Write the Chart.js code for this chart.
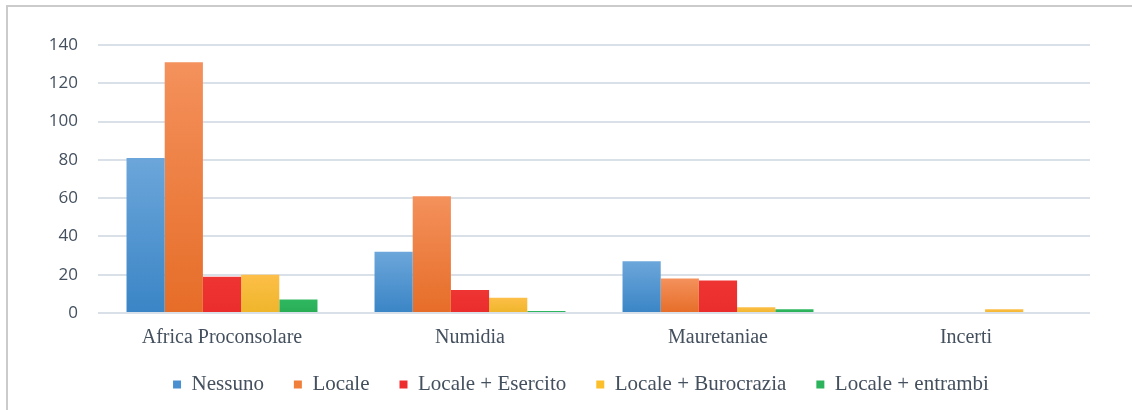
<!DOCTYPE html>
<html>
<head>
<meta charset="utf-8">
<script src="https://cdn.jsdelivr.net/npm/chart.js@4.4.1/dist/chart.umd.min.js"></script>
<style>
  html, body { margin: 0; padding: 0; background: #ffffff; }
  #wrap { position: relative; width: 1132px; height: 410px; overflow: hidden; }
  #frame { position: absolute; left: 6px; top: 5px; width: 1140px; height: 420px;
           border-top: 2px solid #cbcbcb; border-left: 2px solid #cbcbcb; box-sizing: border-box; }
  canvas { position: absolute; left: 0; top: 0; }
</style>
</head>
<body>
<div id="wrap">
  <div id="frame"></div>
  <canvas id="c" width="1132" height="410"></canvas>
</div>
<script>
const categories = ["Africa Proconsolare", "Numidia", "Mauretaniae", "Incerti"];
const seriesNames = ["Nessuno", "Locale", "Locale + Esercito", "Locale + Burocrazia", "Locale + entrambi"];
const nessuno = [81, 32, 27, 0];
const locale = [131, 61, 18, 0];
const localeEsercito = [19, 12, 17, 0];
const localeBurocrazia = [20, 8, 3, 2];
const localeEntrambi = [7, 1, 2, 0];
const yTicks = [0, 20, 40, 60, 80, 100, 120, 140];

const palette = [
  { top: "#6ca6da", bottom: "#3a85c6", legend: "#4a90d0" },
  { top: "#f4915c", bottom: "#e66d28", legend: "#f07f3c" },
  { top: "#ef3434", bottom: "#ea2c2c", legend: "#ee2e2e" },
  { top: "#fdbf48", bottom: "#efb52a", legend: "#fbbf2c" },
  { top: "#2fb860", bottom: "#28ad55", legend: "#2db35b" }
];

function barGradient(i) {
  return function (ctx) {
    const chart = ctx.chart;
    if (ctx.type !== "data") return palette[i].legend;
    const ys = chart.scales && chart.scales.y;
    if (!ys || !chart.chartArea) return palette[i].legend;
    const v = ctx.raw || 0;
    const top = ys.getPixelForValue(v);
    const base = ys.getPixelForValue(0);
    if (!isFinite(top) || !isFinite(base) || base - top < 1) return palette[i].top;
    const g = chart.ctx.createLinearGradient(0, top, 0, base);
    g.addColorStop(0, palette[i].top);
    g.addColorStop(1, palette[i].bottom);
    return g;
  };
}

const seriesValues = [nessuno, locale, localeEsercito, localeBurocrazia, localeEntrambi];
const datasets = seriesNames.map((name, i) => ({
  label: name,
  data: seriesValues[i],
  backgroundColor: barGradient(i),
  borderWidth: 0,
  categoryPercentage: 0.77,
  barPercentage: 1.0
}));

const serifFont = "'Liberation Serif', 'Times New Roman', serif";

// shift the legend box so its items are centred like the reference
const legendShift = {
  id: "legendShift",
  afterLayout(chart) {
    if (chart.legend) { chart.legend.left = 72; }
  }
};

new Chart(document.getElementById("c"), {
  type: "bar",
  data: { labels: categories, datasets: datasets },
  plugins: [legendShift],
  options: {
    responsive: false,
    animation: false,
    devicePixelRatio: 1,
    layout: { padding: { top: 45, right: 42, bottom: 5, left: 0 } },
    plugins: {
      legend: {
        position: "bottom",
        labels: {
          boxWidth: 8,
          boxHeight: 8,
          padding: 30,
          color: "#44505e",
          font: { family: serifFont, size: 21 },
          generateLabels: function (chart) {
            return chart.data.datasets.map((ds, i) => ({
              text: ds.label,
              fillStyle: palette[i].legend,
              strokeStyle: palette[i].legend,
              lineWidth: 0,
              hidden: false,
              datasetIndex: i,
              fontColor: "#44505e"
            }));
          }
        }
      },
      tooltip: { enabled: false }
    },
    scales: {
      x: {
        grid: { display: false, drawTicks: false },
        border: { display: false },
        afterFit: function (scale) { scale.height = 31; },
        ticks: {
          color: "#44505e",
          padding: 13,
          font: { family: serifFont, size: 20 }
        }
      },
      y: {
        min: 0,
        max: 140,
        afterBuildTicks: function (scale) {
          scale.ticks = yTicks.map(v => ({ value: v }));
        },
        afterFit: function (scale) { scale.width = 98; },
        grid: { color: "#d9e0e7", lineWidth: 2, drawTicks: false },
        border: { display: false },
        ticks: {
          color: "#44505e",
          padding: 20,
          font: { family: "'Open Sans', sans-serif", size: 17 }
        }
      }
    }
  }
});
</script>
</body>
</html>
